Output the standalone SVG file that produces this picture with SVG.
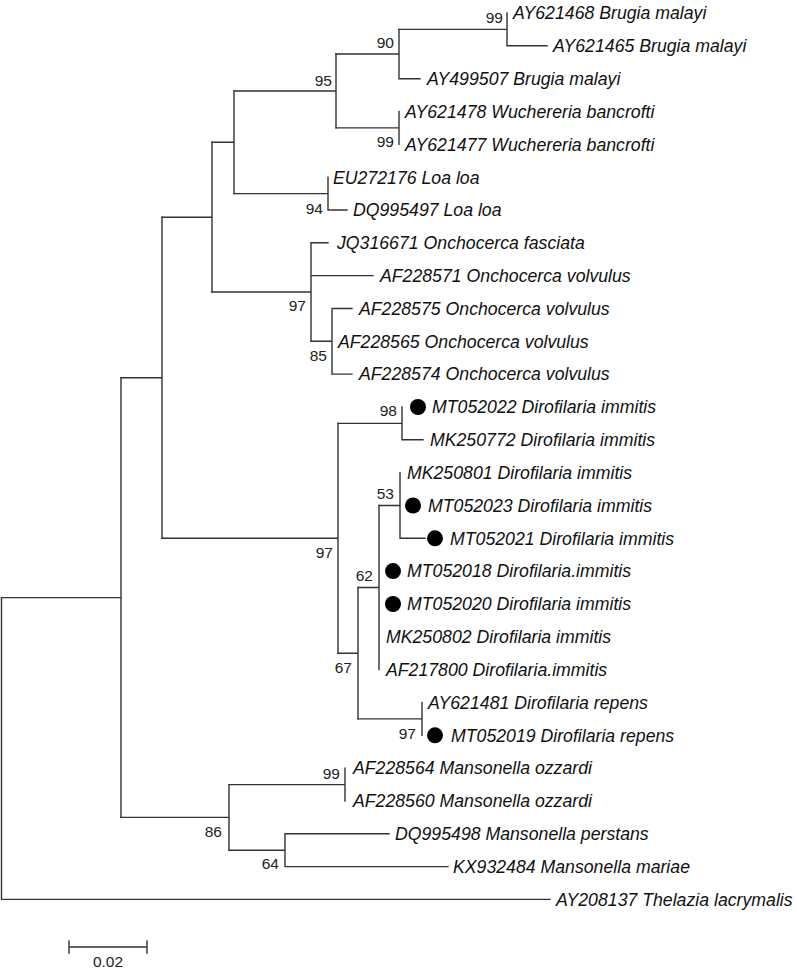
<svg xmlns="http://www.w3.org/2000/svg" width="797" height="970" viewBox="0 0 797 970">
<style>
.br{fill:none;stroke:#333;stroke-width:1.4;stroke-linecap:square}
.lb{font-family:"Liberation Sans",Arial,sans-serif;font-style:italic;font-size:17.7px;fill:#111}
.bs{font-family:"Liberation Sans",Arial,sans-serif;font-size:15.5px;fill:#222;text-anchor:end}
.dot{fill:#000}
</style>
<rect width="797" height="970" fill="#fff"/>
<g id="connectors" class="br">
<path d="M1.5 597.6V899.4H550"/>
<path d="M1.5 597.6H121M121 377.8V817.4"/>
<path d="M121 377.8H162M162 217.2V538.3"/>
<path d="M162 217.2H212M212 142.3V292"/>
<path d="M212 142.3H234M234 91V193.6"/>
<path d="M234 91H336M336 54V127.9"/>
<path d="M336 54H399M399 29.4V78.7H420"/>
<path d="M399 29.4H507M507 13V45.8H547"/>
<path d="M336 127.9H399M399 111.5V144.3"/>
<path d="M234 193.6H328M328 177.2V210H347"/>
<path d="M212 292H311M311 242.8V341.3M311 242.8H328M311 275.6H373"/>
<path d="M311 341.3H332M332 308.5V374.1M332 308.5H352M332 374.1H352"/>
<path d="M162 538.3H338M338 423.4V653.2"/>
<path d="M338 423.4H402M402 407V439.8H423"/>
<path d="M338 653.2H358M358 587.5V718.9"/>
<path d="M358 587.5H379M379 505.5V669.6"/>
<path d="M379 505.5H400M400 472.6V538.3H425"/>
<path d="M358 718.9H422M422 702.5V735.3"/>
<path d="M121 817.4H229M229 784.6V850.2"/>
<path d="M229 784.6H345M345 768.1V801"/>
<path d="M229 850.2H285M285 833.8V866.6M285 833.8H389M285 866.6H448"/>
</g>
<g id="bootstrap">
<text class="bs" x="503" y="22.5">99</text>
<text class="bs" x="394" y="47.5">90</text>
<text class="bs" x="332" y="85.5">95</text>
<text class="bs" x="394" y="146.5">99</text>
<text class="bs" x="323" y="213.5">94</text>
<text class="bs" x="306" y="310.5">97</text>
<text class="bs" x="327" y="360.5">85</text>
<text class="bs" x="397" y="415.5">98</text>
<text class="bs" x="394" y="498.5">53</text>
<text class="bs" x="333" y="557.5">97</text>
<text class="bs" x="373" y="580.5">62</text>
<text class="bs" x="352" y="672.5">67</text>
<text class="bs" x="416" y="738.5">97</text>
<text class="bs" x="340" y="778.5">99</text>
<text class="bs" x="222" y="836.5">86</text>
<text class="bs" x="279" y="868.5">64</text>
</g>
<g id="n1"><text class="lb" x="513" y="19.3">AY621468 Brugia malayi</text></g>
<g id="n2"><text class="lb" x="553" y="52.1">AY621465 Brugia malayi</text></g>
<g id="n3"><text class="lb" x="427" y="85">AY499507 Brugia malayi</text></g>
<g id="n4"><text class="lb" x="405" y="117.8">AY621478 Wuchereria bancrofti</text></g>
<g id="n5"><text class="lb" x="405" y="150.6">AY621477 Wuchereria bancrofti</text></g>
<g id="n6"><text class="lb" x="333" y="183.5">EU272176 Loa loa</text></g>
<g id="n7"><text class="lb" x="353" y="216.3">DQ995497 Loa loa</text></g>
<g id="n8"><text class="lb" x="337" y="249.1">JQ316671 Onchocerca fasciata</text></g>
<g id="n9"><text class="lb" x="380" y="281.9">AF228571 Onchocerca volvulus</text></g>
<g id="n10"><text class="lb" x="359" y="314.8">AF228575 Onchocerca volvulus</text></g>
<g id="n11"><text class="lb" x="338" y="347.6">AF228565 Onchocerca volvulus</text></g>
<g id="n12"><text class="lb" x="359" y="380.4">AF228574 Onchocerca volvulus</text></g>
<g id="n13"><circle class="dot" cx="418" cy="407" r="8"/><text class="lb" x="432" y="413.3">MT052022 Dirofilaria immitis</text></g>
<g id="n14"><text class="lb" x="430" y="446.1">MK250772 Dirofilaria immitis</text></g>
<g id="n15"><text class="lb" x="407" y="478.9">MK250801 Dirofilaria immitis</text></g>
<g id="n16"><circle class="dot" cx="413" cy="505.5" r="8"/><text class="lb" x="428" y="511.8">MT052023 Dirofilaria immitis</text></g>
<g id="n17"><circle class="dot" cx="435" cy="538.3" r="8"/><text class="lb" x="450" y="544.6">MT052021 Dirofilaria immitis</text></g>
<g id="n18"><circle class="dot" cx="393" cy="571.1" r="8"/><text class="lb" x="407" y="577.4">MT052018 Dirofilaria.immitis</text></g>
<g id="n19"><circle class="dot" cx="393" cy="604" r="8"/><text class="lb" x="407" y="610.3">MT052020 Dirofilaria immitis</text></g>
<g id="n20"><text class="lb" x="386" y="643.1">MK250802 Dirofilaria immitis</text></g>
<g id="n21"><text class="lb" x="386" y="675.9">AF217800 Dirofilaria.immitis</text></g>
<g id="n22"><text class="lb" x="428" y="708.8">AY621481 Dirofilaria repens</text></g>
<g id="n23"><circle class="dot" cx="435" cy="735.3" r="8"/><text class="lb" x="451" y="741.6">MT052019 Dirofilaria repens</text></g>
<g id="n24"><text class="lb" x="353" y="774.4">AF228564 Mansonella ozzardi</text></g>
<g id="n25"><text class="lb" x="353" y="807.3">AF228560 Mansonella ozzardi</text></g>
<g id="n26"><text class="lb" x="395" y="840.1">DQ995498 Mansonella perstans</text></g>
<g id="n27"><text class="lb" x="453" y="872.9">KX932484 Mansonella mariae</text></g>
<g id="n28"><text class="lb" x="556" y="905.7">AY208137 Thelazia lacrymalis</text></g>
<g id="scalebar">
<path class="br" d="M69 947H147M69 941V953M147 941V953"/>
<text x="108" y="966.5" text-anchor="middle" style="font-family:'Liberation Sans',Arial,sans-serif;font-size:15.5px;fill:#222">0.02</text>
</g>
</svg>
